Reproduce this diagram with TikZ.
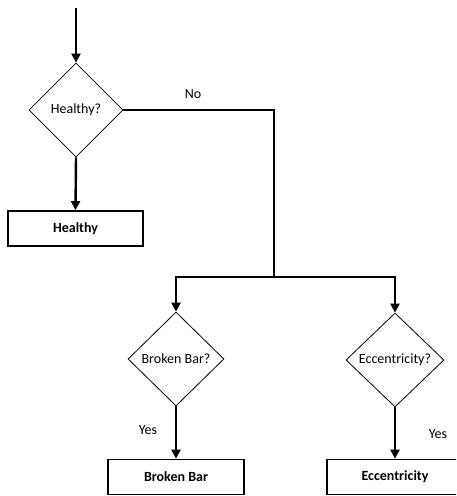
\documentclass[tikz,border=0pt]{standalone}
\usepackage{fontspec}
\setmainfont{Carlito}
\usetikzlibrary{shapes.geometric,arrows.meta}
\begin{document}
\begin{tikzpicture}[x=1pt,y=-1pt,
  font=\fontsize{14}{16}\selectfont,
  decision/.style={diamond,draw,line width=0.8pt,inner sep=0pt,minimum width=#1,minimum height=94pt},
  result/.style={rectangle,draw,line width=1.8pt,minimum width=135pt,minimum height=35pt,inner sep=0pt,font=\fontsize{14}{16}\selectfont\bfseries},
  flow/.style={line width=2.4pt,-{Triangle[length=9pt,width=9pt]}},
  link/.style={line width=1.9pt},
  lbl/.style={inner sep=0pt}]
\useasboundingbox (0,0) rectangle (456,496);
\clip (0,0) rectangle (456,496);
\coordinate (start) at (76,8);
\node[decision=94pt] (d1) at (76,110) {Healthy?};
\node[result] (r1) at (75.5,228.5) {Healthy};
\coordinate (c1) at (274,110);
\coordinate (j) at (274,277);
\node[decision=96pt] (d2) at (176,359) {Broken Bar?};
\node[decision=98pt] (d3) at (395,360) {Eccentricity?};
\node[result,minimum width=136pt] (r2) at (176,477) {Broken Bar};
\node[result,minimum width=136pt] (r3) at (395,477) {Eccentricity};
\node[lbl] (no) at (193,94) {No};
\node[lbl] (yes1) at (148,430) {Yes};
\node[lbl] (yes2) at (438,434) {Yes};
\draw[flow] (start) -- (d1.north);
\draw[flow] (d1.south) -- (r1.north);
\draw[link] (d1.east) -- (c1) -- (j);
\draw[flow] (j) -| (d2.north);
\draw[flow] (j) -| (d3.north);
\draw[flow] (d2.south) -- (r2.north);
\draw[flow] (d3.south) -- (r3.north);
\end{tikzpicture}
\end{document}
